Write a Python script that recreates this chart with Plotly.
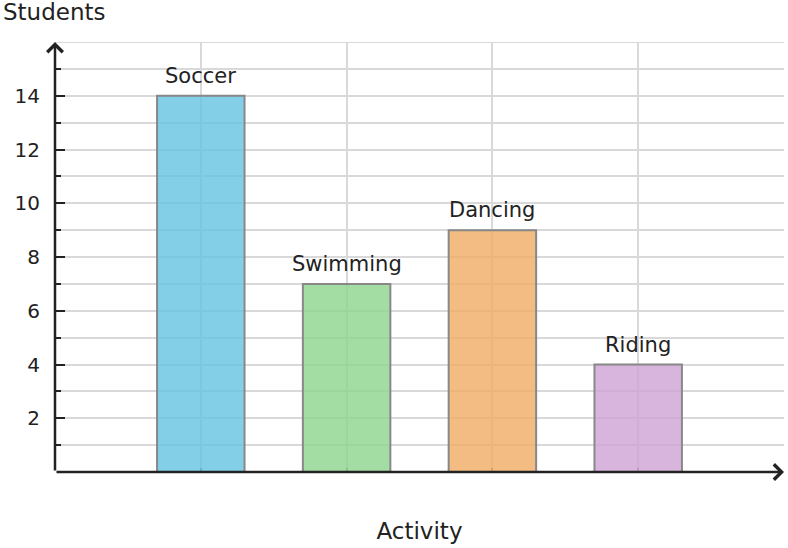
import plotly.graph_objects as go

activities = ["Soccer", "Swimming", "Dancing", "Riding"]
students = [14, 7, 9, 4]
positions = [1, 2, 3, 4]
bar_colors = ["rgba(101,195,226,0.8)", "rgba(140,212,140,0.8)",
              "rgba(240,171,99,0.8)", "rgba(206,162,212,0.8)"]
y_ticks = [2, 4, 6, 8, 10, 12, 14]
y_max = 16
x_max = 5

FONT = "DejaVu Sans"
DARK = "#222222"
GRID = "#d9d9d9"

fig = go.Figure()
fig.add_trace(go.Bar(
    x=positions, y=students, width=0.6,
    marker=dict(color=bar_colors, line=dict(color="#888888", width=2)),
    hoverinfo="skip", showlegend=False,
))

for xi, yi, name in zip(positions, students, activities):
    fig.add_annotation(x=xi, y=yi, text=name, showarrow=False,
                       yanchor="bottom", yshift=6,
                       font=dict(family=FONT, size=21, color=DARK))

# top grid line
fig.add_shape(type="line", xref="paper", x0=0, x1=1, yref="y", y0=y_max, y1=y_max,
              line=dict(color=GRID, width=2), layer="below")

# axis arrows
fig.add_annotation(x=x_max, y=0, ax=0, ay=0, xref="x", yref="y", axref="x", ayref="y",
                   showarrow=True, arrowhead=4, arrowsize=1.2, arrowwidth=2.5,
                   arrowcolor=DARK, text="")
fig.add_annotation(x=0, y=y_max, ax=0, ay=0, xref="x", yref="y", axref="x", ayref="y",
                   showarrow=True, arrowhead=4, arrowsize=1.2, arrowwidth=2.5,
                   arrowcolor=DARK, text="")

fig.add_annotation(xref="paper", yref="paper", x=0, y=1, xshift=-54, yshift=30,
                   xanchor="left", yanchor="middle", text="Students", showarrow=False,
                   font=dict(family=FONT, size=23, color=DARK))

fig.update_xaxes(range=[0, x_max], tickvals=[1, 2, 3, 4, 5], showticklabels=False,
                 ticks="inside", ticklen=4, tickwidth=2, tickcolor="#777777",
                 showgrid=True, gridcolor=GRID, gridwidth=2, zeroline=False,
                 showline=False, layer="below traces",
                 title=dict(text="Activity", font=dict(family=FONT, size=23, color=DARK),
                            standoff=50))
fig.update_yaxes(range=[0, y_max], tickvals=y_ticks, ticks="inside", ticklen=10,
                 tickwidth=2, tickcolor=DARK, showgrid=True, gridcolor=GRID,
                 gridwidth=2, zeroline=False, showline=False, ticklabelstandoff=14,
                 tickfont=dict(family=FONT, size=20, color=DARK),
                 minor=dict(dtick=1, tick0=0, ticks="inside", ticklen=6, tickwidth=2,
                            tickcolor=DARK, showgrid=True, gridcolor=GRID, gridwidth=2))

fig.update_layout(width=788, height=548, margin=dict(l=55, r=4, t=42, b=76),
                  plot_bgcolor="white", paper_bgcolor="white",
                  font=dict(family=FONT, color=DARK))

fig.write_html("out.html")
